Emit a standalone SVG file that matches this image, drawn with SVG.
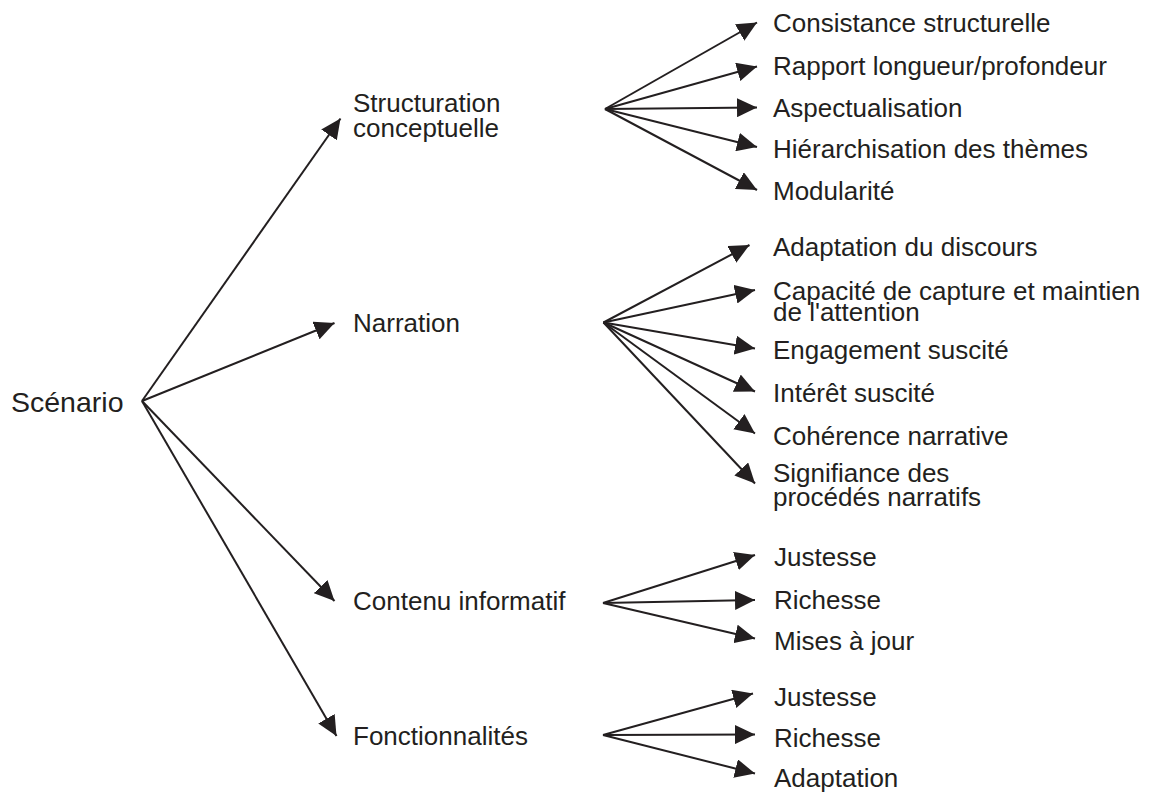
<svg xmlns="http://www.w3.org/2000/svg" width="1154" height="794" viewBox="0 0 1154 794">
<defs>
<style>
text{font-family:"Liberation Sans",Arial,sans-serif;font-size:26px;fill:#231f20}
.root{font-size:28.5px}
.c{stroke:#231f20;stroke-width:2;fill:none;marker-end:url(#ah)}
</style>
<marker id="ah" markerUnits="userSpaceOnUse" markerWidth="20" markerHeight="19" refX="20" refY="9.5" orient="auto" viewBox="0 0 20 19">
<path d="M0,0 L20,9.5 L0,19 Z" fill="#231f20"/>
</marker>
</defs>
<rect width="1154" height="794" fill="#fff"/>
<g id="connectors">
<line class="c" x1="142" y1="401" x2="340.5" y2="118.5"/>
<line class="c" x1="142" y1="401" x2="334.5" y2="323"/>
<line class="c" x1="142" y1="401" x2="334.5" y2="601"/>
<line class="c" x1="142" y1="401" x2="336.5" y2="736"/>
<line class="c" x1="605" y1="109" x2="757" y2="22.5"/>
<line class="c" x1="605" y1="109" x2="757" y2="66.5"/>
<line class="c" x1="605" y1="109" x2="757" y2="107.5"/>
<line class="c" x1="605" y1="109" x2="757" y2="147"/>
<line class="c" x1="605" y1="109" x2="757" y2="190"/>
<line class="c" x1="603.5" y1="322.5" x2="749.5" y2="245"/>
<line class="c" x1="603.5" y1="322.5" x2="755" y2="290"/>
<line class="c" x1="603.5" y1="322.5" x2="755" y2="348.5"/>
<line class="c" x1="603.5" y1="322.5" x2="755" y2="391.5"/>
<line class="c" x1="603.5" y1="322.5" x2="755" y2="433.5"/>
<line class="c" x1="603.5" y1="322.5" x2="755" y2="483.5"/>
<line class="c" x1="603" y1="603" x2="755" y2="555"/>
<line class="c" x1="603" y1="603" x2="755" y2="600"/>
<line class="c" x1="603" y1="603" x2="755" y2="638.5"/>
<line class="c" x1="603" y1="735" x2="753" y2="693.5"/>
<line class="c" x1="603" y1="735" x2="755" y2="734.5"/>
<line class="c" x1="603" y1="735" x2="755" y2="773.5"/>
</g>
<g id="n-scenario"><text class="root" x="11" y="412">Scénario</text></g>
<g id="n-structuration"><text x="353" y="112">Structuration</text><text x="353" y="137">conceptuelle</text></g>
<g id="n-narration"><text x="353" y="332">Narration</text></g>
<g id="n-contenu"><text x="353" y="610">Contenu informatif</text></g>
<g id="n-fonction"><text x="353" y="745">Fonctionnalités</text></g>
<g id="n-consistance"><text x="773" y="32">Consistance structurelle</text></g>
<g id="n-rapport"><text x="773" y="75">Rapport longueur/profondeur</text></g>
<g id="n-aspect"><text x="773" y="117">Aspectualisation</text></g>
<g id="n-hierarchie"><text x="773" y="158">Hiérarchisation des thèmes</text></g>
<g id="n-modularite"><text x="773" y="200">Modularité</text></g>
<g id="n-adaptdisc"><text x="773" y="256">Adaptation du discours</text></g>
<g id="n-capacite"><text x="773" y="300">Capacité de capture et maintien</text><text x="773" y="321">de l'attention</text></g>
<g id="n-engagement"><text x="773" y="359">Engagement suscité</text></g>
<g id="n-interet"><text x="773" y="402">Intérêt suscité</text></g>
<g id="n-coherence"><text x="773" y="445">Cohérence narrative</text></g>
<g id="n-signifiance"><text x="773" y="482">Signifiance des</text><text x="773" y="506">procédés narratifs</text></g>
<g id="n-justesse1"><text x="774" y="566">Justesse</text></g>
<g id="n-richesse1"><text x="774" y="609">Richesse</text></g>
<g id="n-maj"><text x="774" y="650">Mises à jour</text></g>
<g id="n-justesse2"><text x="774" y="706">Justesse</text></g>
<g id="n-richesse2"><text x="774" y="747">Richesse</text></g>
<g id="n-adaptation"><text x="774" y="787">Adaptation</text></g>
</svg>
